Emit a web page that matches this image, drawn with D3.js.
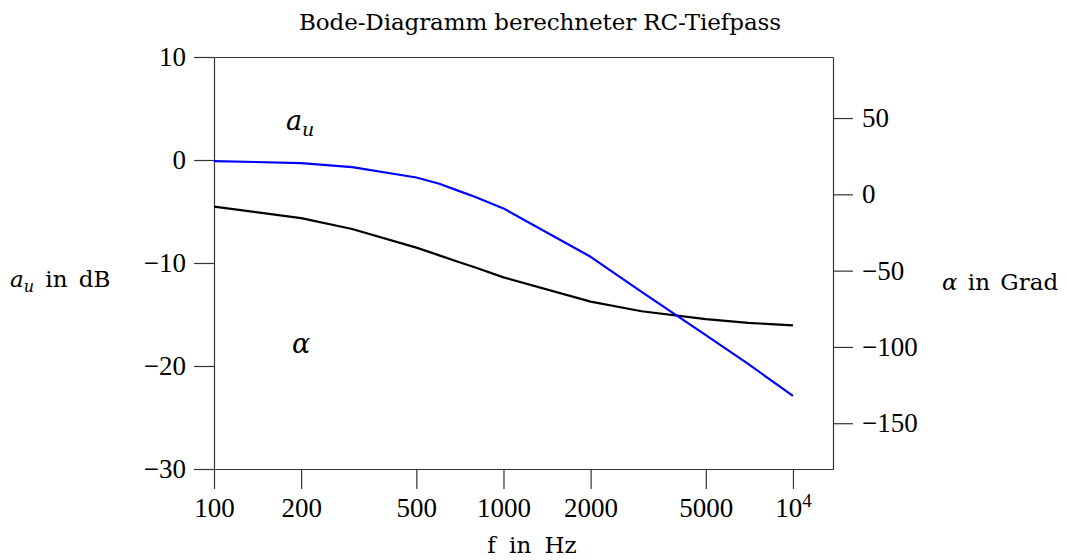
<!DOCTYPE html>
<html><head><meta charset="utf-8">
<script src="https://cdn.jsdelivr.net/npm/d3@7"></script>
<style>
html,body{margin:0;padding:0;background:#fff;}
svg text{font-family:"Liberation Serif","Times New Roman",serif;fill:#000;}
svg text.w{font-family:"DejaVu Serif",serif;}
</style></head>
<body>
<svg id="c" width="1067" height="560"></svg>
<script>
const freq = [100, 200, 300, 500, 600, 700, 800, 1000, 2000, 3000, 5000, 7000, 10000];
const gainDb = [-0.1, -0.3, -0.7, -1.7, -2.3, -3.0, -3.6, -4.7, -9.4, -12.8, -17.0, -19.8, -22.9];
const phaseDeg = [-8, -15.6, -22.7, -34.9, -40, -44.4, -48, -54.4, -70.3, -76.6, -81.8, -84.2, -85.9];
const xTicks = [100, 200, 500, 1000, 2000, 5000, 10000];
const yLeftTicks = [10, 0, -10, -20, -30];
const yRightTicks = [50, 0, -50, -100, -150];
const title = "Bode-Diagramm berechneter RC-Tiefpass";

const svg = d3.select("#c");
const L = 214, R = 833, T = 57, B = 469;
const x = d3.scaleLog().domain([100, 13750]).range([L, R]);
const yL = d3.scaleLinear().domain([-30, 10]).range([B, T]);
const yR = d3.scaleLinear().domain([-180, 90]).range([B, T]);
const fs = 27;
const wfs = 23;
const axisColor = "#333";

function style(g){
  g.selectAll("path,line").attr("stroke", axisColor).attr("stroke-width", 1.2);
  g.selectAll("text").attr("font-size", fs).attr("fill", "#000")
   .attr("font-family", '"Liberation Serif", serif');
}
const fmtNum = v => v < 0 ? "\u2212" + Math.abs(v) : String(v);

// top frame
svg.append("g").attr("transform", `translate(0,${T})`)
  .call(d3.axisTop(x).tickValues([]).tickSizeOuter(0)).call(style);

// bottom axis
const gx = svg.append("g").attr("transform", `translate(0,${B})`)
  .call(d3.axisBottom(x).tickValues(xTicks).tickSize(20).tickSizeOuter(0).tickPadding(9)
    .tickFormat(d => d === 10000 ? "" : String(d)))
  .call(style);
gx.selectAll(".tick").filter(d => d === 10000).select("text")
  .each(function(){
    const t = d3.select(this);
    t.append("tspan").text("10");
    t.append("tspan").attr("dy", -10).attr("font-size", 19).text("4");
  });

// left axis
svg.append("g").attr("transform", `translate(${L},0)`)
  .call(d3.axisLeft(yL).tickValues(yLeftTicks).tickSize(20).tickSizeOuter(0).tickPadding(8).tickFormat(fmtNum))
  .call(style);

// right axis
svg.append("g").attr("transform", `translate(${R},0)`)
  .call(d3.axisRight(yR).tickValues(yRightTicks).tickSize(20).tickSizeOuter(0).tickPadding(9).tickFormat(fmtNum))
  .call(style);

// curves
const lineG = d3.line().x((d,i) => x(freq[i])).y(d => yL(d));
const lineP = d3.line().x((d,i) => x(freq[i])).y(d => yR(d));
svg.append("path").datum(phaseDeg).attr("d", lineP).attr("fill", "none")
  .attr("stroke", "#000").attr("stroke-width", 2.2).attr("stroke-linejoin", "round");
svg.append("path").datum(gainDb).attr("d", lineG).attr("fill", "none")
  .attr("stroke", "#0000ff").attr("stroke-width", 2.2).attr("stroke-linejoin", "round");

// title
svg.append("text").attr("class", "w").attr("x", 540).attr("y", 30).attr("text-anchor", "middle")
  .attr("font-size", 23).attr("textLength", 482).attr("lengthAdjust", "spacing").text(title);

// in-plot labels
const au = svg.append("text").attr("class", "w").attr("x", 286).attr("y", 130).attr("font-size", 27);
au.append("tspan").attr("font-style", "italic").text("a");
au.append("tspan").attr("font-style", "italic").attr("font-size", 19).attr("dy", 6).text("u");

svg.append("text").attr("class", "w").attr("x", 292).attr("y", 353).attr("font-size", 27)
  .attr("font-style", "italic").text("\u03b1");

// axis titles
const yl = svg.append("text").attr("class", "w").attr("x", 10).attr("y", 287)
  .attr("font-size", wfs).attr("word-spacing", 4);
yl.append("tspan").attr("font-style", "italic").text("a");
yl.append("tspan").attr("font-style", "italic").attr("font-size", 16).attr("dy", 5).text("u");
yl.append("tspan").attr("dy", -5).text(" in dB");

const yr = svg.append("text").attr("class", "w").attr("x", 942).attr("y", 290)
  .attr("font-size", wfs).attr("word-spacing", 3);
yr.append("tspan").attr("font-style", "italic").text("\u03b1");
yr.append("tspan").text(" in Grad");

svg.append("text").attr("class", "w").attr("x", 532).attr("y", 553).attr("text-anchor", "middle")
  .attr("font-size", wfs).attr("word-spacing", 6).text("f in Hz");
</script>
</body></html>
